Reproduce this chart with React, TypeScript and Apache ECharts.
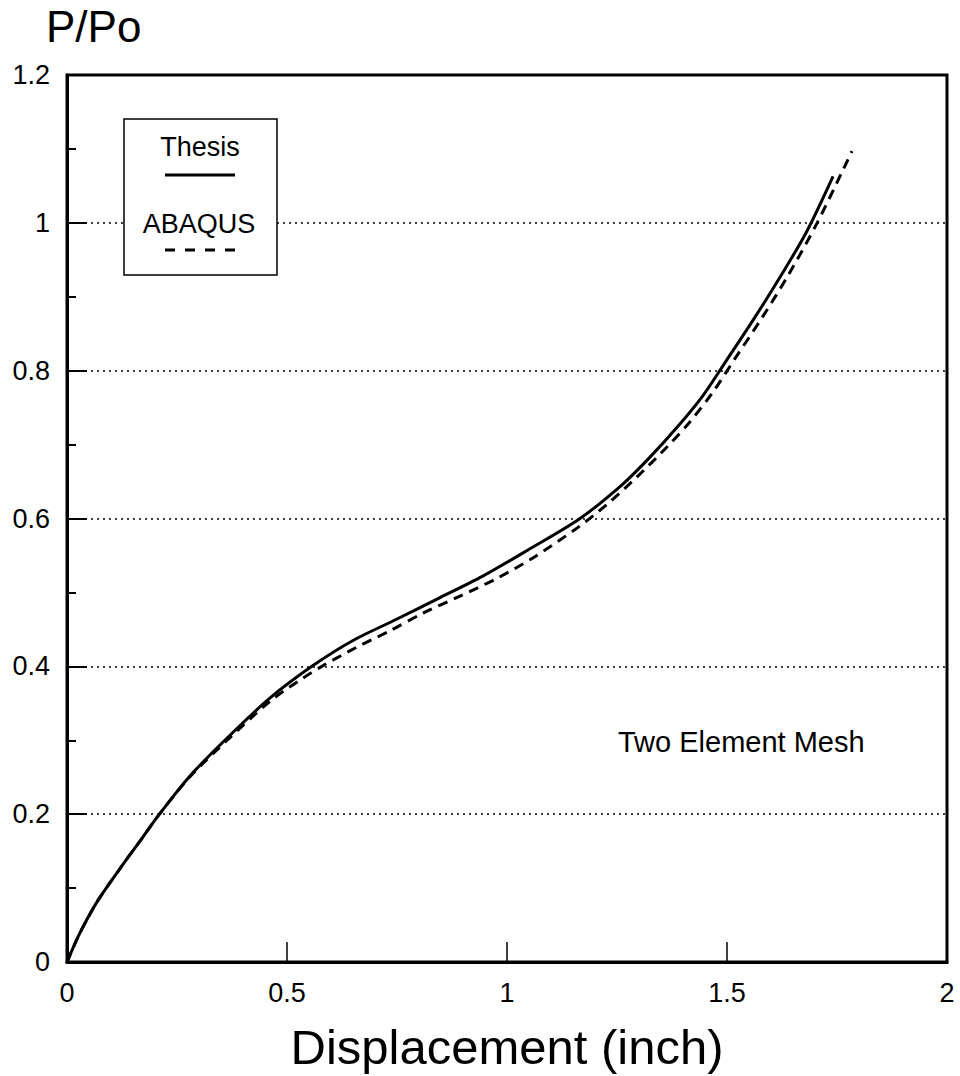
import React, { useEffect, useRef } from "react";
import * as echarts from "echarts";

const thesisX = [0, 0.03, 0.07, 0.12, 0.17, 0.21, 0.28, 0.364, 0.461, 0.559, 0.65, 0.75, 0.841, 0.945, 1.052, 1.166, 1.264, 1.325, 1.386, 1.445, 1.5, 1.56, 1.62, 1.68, 1.741];
const thesisY = [0, 0.04, 0.083, 0.126, 0.167, 0.2, 0.252, 0.303, 0.357, 0.401, 0.435, 0.464, 0.491, 0.522, 0.559, 0.6, 0.647, 0.683, 0.723, 0.766, 0.815, 0.869, 0.926, 0.987, 1.063];

const abaqusX = [0, 0.03, 0.07, 0.12, 0.17, 0.21, 0.28, 0.364, 0.46, 0.536, 0.582, 0.659, 0.734, 0.809, 0.893, 0.977, 1.057, 1.159, 1.227, 1.295, 1.364, 1.416, 1.468, 1.52, 1.58, 1.64, 1.705, 1.784];
const abaqusY = [0, 0.04, 0.083, 0.126, 0.167, 0.2, 0.251, 0.3, 0.352, 0.384, 0.401, 0.426, 0.448, 0.472, 0.495, 0.519, 0.546, 0.587, 0.619, 0.656, 0.697, 0.731, 0.771, 0.818, 0.872, 0.93, 1.0, 1.097];

const seriesNames = ["Thesis", "ABAQUS"];
const xAxisTitle = "Displacement (inch)";
const yAxisTitle = "P/Po";
const annotation = "Two Element Mesh";

const FONT = "'Liberation Sans', Arial, Helvetica, sans-serif";

export default function App() {
  const ref = useRef<HTMLDivElement>(null);
  useEffect(() => {
    if (!ref.current) return;
    const chart = echarts.init(ref.current, undefined, { renderer: "svg" });
    const thesis = thesisX.map((x, i) => [x, thesisY[i]]);
    const abaqus = abaqusX.map((x, i) => [x, abaqusY[i]]);
    chart.setOption({
      animation: false,
      backgroundColor: "#ffffff",
      grid: {
        left: 67,
        right: 13,
        top: 75,
        bottom: 107,
        show: true,
        borderColor: "#000",
        borderWidth: 3,
        backgroundColor: "transparent",
      },
      xAxis: {
        type: "value",
        min: 0,
        max: 2,
        interval: 0.5,
        name: xAxisTitle,
        nameLocation: "middle",
        nameGap: 60,
        nameTextStyle: { fontFamily: FONT, fontSize: 49, color: "#000" },
        axisLine: { show: true, lineStyle: { color: "#000", width: 3 } },
        axisTick: { show: true, inside: true, length: 20, lineStyle: { color: "#000", width: 1.5 } },
        axisLabel: { fontFamily: FONT, fontSize: 27, color: "#000", margin: 17 },
        splitLine: { show: false },
      },
      yAxis: {
        type: "value",
        min: 0,
        max: 1.2,
        interval: 0.2,
        axisLine: { show: true, lineStyle: { color: "#000", width: 3 } },
        axisTick: { show: true, inside: true, length: 20, lineStyle: { color: "#000", width: 2 } },
        minorTick: { show: true, splitNumber: 2, length: 9, lineStyle: { color: "#000", width: 2 } },
        axisLabel: { fontFamily: FONT, fontSize: 27, color: "#000", margin: 17 },
        splitLine: { show: true, lineStyle: { color: "#000", width: 1.5, type: [2, 4] } },
      },
      series: [
        {
          name: seriesNames[0],
          type: "line",
          data: thesis,
          smooth: 0.3,
          symbol: "none",
          lineStyle: { color: "#000", width: 3 },
          z: 3,
        },
        {
          name: seriesNames[1],
          type: "line",
          data: abaqus,
          smooth: 0.3,
          symbol: "none",
          lineStyle: { color: "#000", width: 3, type: [10, 7] },
          z: 3,
        },
      ],
      graphic: [
        {
          type: "text",
          left: 46,
          top: 4,
          style: { text: yAxisTitle, font: `44px ${FONT}`, fill: "#000" },
        },
        {
          type: "rect",
          shape: { x: 124, y: 119, width: 153, height: 156 },
          style: { fill: "#fff", stroke: "#000", lineWidth: 1.5 },
          z: 10,
        },
        {
          type: "text",
          x: 200,
          y: 147,
          style: { text: seriesNames[0], font: `27px ${FONT}`, fill: "#000", align: "center", verticalAlign: "middle" },
          z: 11,
        },
        {
          type: "line",
          shape: { x1: 165, y1: 175, x2: 235, y2: 175 },
          style: { stroke: "#000", lineWidth: 3 },
          z: 11,
        },
        {
          type: "text",
          x: 199,
          y: 224,
          style: { text: seriesNames[1], font: `27px ${FONT}`, fill: "#000", align: "center", verticalAlign: "middle" },
          z: 11,
        },
        {
          type: "line",
          shape: { x1: 165, y1: 250, x2: 235, y2: 250 },
          style: { stroke: "#000", lineWidth: 3, lineDash: [10, 10] },
          z: 11,
        },
        {
          type: "text",
          x: 618,
          y: 742,
          style: { text: annotation, font: `29px ${FONT}`, fill: "#000", align: "left", verticalAlign: "middle" },
        },
      ],
    });
    return () => chart.dispose();
  }, []);
  return <div ref={ref} style={{ position: "fixed", left: 0, top: 0, width: 960, height: 1076 }} />;
}
